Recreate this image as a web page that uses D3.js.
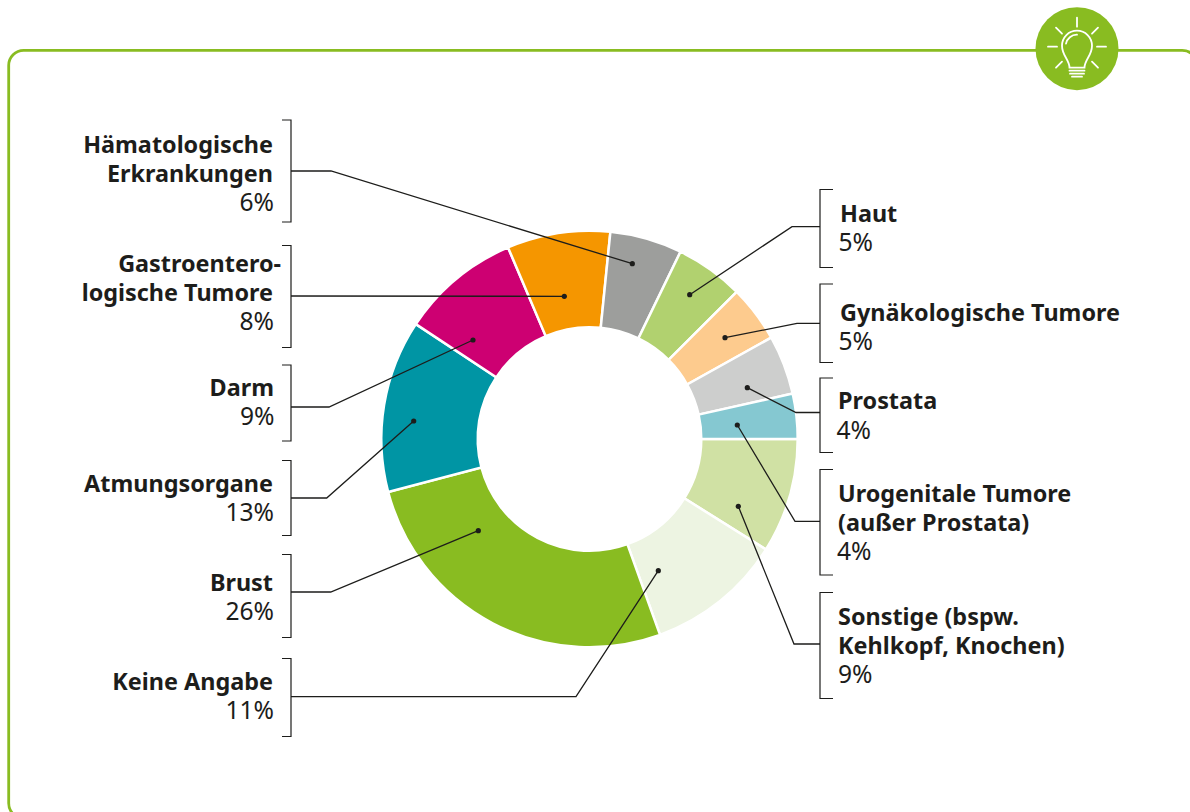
<!DOCTYPE html>
<html><head><meta charset="utf-8">
<script src="https://cdn.jsdelivr.net/npm/d3@7"></script>
<style>html,body{margin:0;padding:0;background:#fff}svg{display:block}
text{font-family:"Noto Sans",sans-serif;fill:#1d1d1b}
.n{font-weight:700;font-size:23.4px}.p{font-weight:400;font-size:24.6px}</style></head><body>
<svg id="c" width="1190" height="812"></svg>
<script>
// clockwise from 3 o'clock
const categories=["Sonstige","Keine Angabe","Brust","Atmungsorgane","Darm","Gastroenterologische Tumore","Hämatologische Erkrankungen","Haut","Gynäkologische Tumore","Prostata","Urogenitale Tumore"];
const shares=[8.9,10.6,26.4,13.4,9.3,8,5.6,5.3,4.4,4.6,3.5];
const colors=["#d0e1a4","#edf4e2","#89bc21","#0095a4","#cd0072","#f59600","#9d9e9c","#b1d16f","#fdcb8e","#cdcecd","#85c8d1"];
const nameLines=[["Sonstige (bspw.","Kehlkopf, Knochen)"],["Keine Angabe"],["Brust"],["Atmungsorgane"],["Darm"],["Gastroentero-","logische Tumore"],["Hämatologische","Erkrankungen"],["Haut"],["Gynäkologische Tumore"],["Prostata"],["Urogenitale Tumore","(außer Prostata)"]];
const percentLabels=["9%","11%","26%","13%","9%","8%","6%","5%","5%","4%","4%"];
const sides=["r","l","l","l","l","l","l","r","r","r","r"];
const bracketTop=[592.5,658.5,554.5,460.5,365,245.5,120,189.5,284,378,469.5];
const bracketBottom=[698.5,736.5,637.5,535.5,441,347.5,222,267.5,362.5,452.5,575];
const textX=[838,273,273,273,274,273,273,840,840,838,838];
const percentX=[838,274,274,274,274.5,274,274,838.5,838.5,836.5,837];
const firstBase=[625,690,591,491.7,395.7,272,152.7,221.7,320.7,409.3,501.7];
const nameEndX=[null,null,null,null,null,[281,273],null,null,null,null,null];
const elbowX=[794,576,330.7,326.7,329,null,331,792,797,796,795];
const elbowY=[644,696.7,592,498,407,296,171,226.7,323.3,412.5,521.3];
const dotX=[738.3,658.3,478.3,413.7,473,564.3,632.3,689.7,725,747.3,737.3];
const dotY=[506.3,570.7,530.7,421,340,296.3,263.7,294.7,337.7,387.7,425];
const lineGap=29.2;

const svg=d3.select("#c"), green="#89bc21", ink="#1d1d1b";
const cx=589.5, cy=439, R=208.2, r=111.8;
svg.append("rect").attr("x",8.7).attr("y",50.3).attr("width",1188.5).attr("height",768).attr("rx",15).attr("fill","none").attr("stroke",green).attr("stroke-width",2.8);

const pie=d3.pie().sort(null).value(d=>d).startAngle(Math.PI/2).endAngle(Math.PI*2.5);
const arc=d3.arc().innerRadius(r).outerRadius(R);
svg.append("g").attr("transform",`translate(${cx},${cy})`).selectAll("path").data(pie(shares)).join("path")
 .attr("d",arc).attr("fill",(d,i)=>colors[i]).attr("stroke","#fff").attr("stroke-width",2.5);

categories.forEach((c,i)=>{
 const left=sides[i]==="l", bx=left?291:820, tick=left?-9:13;
 svg.append("path").attr("d",d3.line()([[bx+tick,bracketTop[i]],[bx,bracketTop[i]],[bx,bracketBottom[i]],[bx+tick,bracketBottom[i]]]))
  .attr("fill","none").attr("stroke",ink).attr("stroke-width",1.2);
 const pts=[[bx,elbowY[i]]];
 if(elbowX[i]!==null)pts.push([elbowX[i],elbowY[i]]);
 pts.push([dotX[i],dotY[i]]);
 svg.append("path").attr("d",d3.line()(pts)).attr("fill","none").attr("stroke",ink).attr("stroke-width",1.3);
 svg.append("circle").attr("cx",dotX[i]).attr("cy",dotY[i]).attr("r",2.6).attr("fill",ink);
 const anchor=left?"end":"start";
 nameLines[i].forEach((t,j)=>{
  svg.append("text").attr("class","n").attr("x",nameEndX[i]?nameEndX[i][j]:textX[i]).attr("y",firstBase[i]+j*lineGap).attr("text-anchor",anchor).text(t);
 });
 svg.append("text").attr("class","p").attr("x",percentX[i]).attr("y",firstBase[i]+nameLines[i].length*lineGap).attr("text-anchor",anchor).text(percentLabels[i]);
});

// icon
const ix=1077, iy=48.7;
const icon=svg.append("g").attr("transform",`translate(${ix},${iy})`);
icon.append("circle").attr("r",41.5).attr("fill",green);
const W=icon.append("g").attr("fill","none").attr("stroke","#fff").attr("stroke-width",1.8).attr("stroke-linecap","round");
[[0,-31,0,-22],[-21,-21,-15,-15],[21,-21,15,-15],[-29,-2,-20,-2],[29,-2,20,-2],[-21,19,-15,13],[21,19,15,13]].forEach(l=>W.append("line").attr("x1",l[0]).attr("y1",l[1]).attr("x2",l[2]).attr("y2",l[3]));
W.append("path").attr("d","M-7.5,19 C-7.5,11 -15,7 -15,-3 A15,15 0 1 1 15,-3 C15,7 7.5,11 7.5,19 Z");
W.append("path").attr("d","M-11,-5 A11,11 0 0 1 0,-14");
[[-7.5,7.5,22],[-7,7,25],[-5,5,28]].forEach(l=>W.append("line").attr("x1",l[0]).attr("x2",l[1]).attr("y1",l[2]).attr("y2",l[2]));
</script></body></html>
